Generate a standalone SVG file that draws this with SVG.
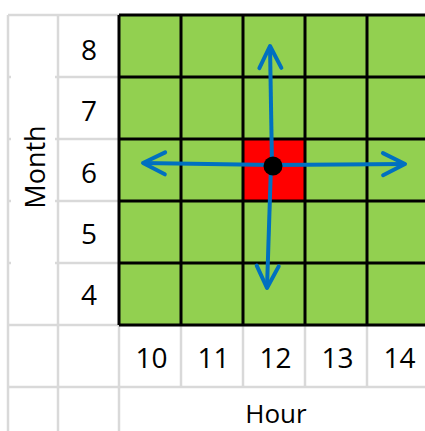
<svg xmlns="http://www.w3.org/2000/svg" width="425" height="431" viewBox="0 0 425 431">
  <style>
    .grey { stroke: #d9d9d9; stroke-width: 2.5; fill: none; }
    .black { stroke: #000; stroke-width: 3; fill: none; }
    .lbl { font-family: "Open Sans", "Liberation Sans", sans-serif; font-size: 28px; fill: #000; text-anchor: middle; }
    .title { font-family: "Open Sans", "Liberation Sans", sans-serif; font-size: 27px; fill: #000; text-anchor: middle; }
    .arrow { stroke: #0070c0; stroke-width: 4; fill: none; marker-end: url(#chev); }
  </style>
  <defs>
    <marker id="chev" markerUnits="userSpaceOnUse" viewBox="-26 -15 30 30" refX="0" refY="0" markerWidth="30" markerHeight="30" orient="auto">
      <path d="M-22,-11 L0,0 L-22,11" fill="none" stroke="#0070c0" stroke-width="4" stroke-linecap="round" stroke-linejoin="round"/>
    </marker>
  </defs>
  <rect width="425" height="431" fill="#fff"/>

  <g id="sheet-grid">
    <path class="grey" d="M8,15 V431 M58,15 V431 M119,325 V431 M8,15 H119 M58,77 H119 M58,139 H119 M58,201 H119 M58,263 H119 M8,325 H425 M8,387 H425 M181,325 V387 M243,325 V387 M305,325 V387 M367,325 V387"/>
    <path class="grey" d="M8,77 h3 M8,139 h3 M8,201 h3 M8,263 h3 M55,77 h3 M55,139 h3 M55,201 h3 M55,263 h3"/>
  </g>

  <g id="heatmap">
    <rect x="119" y="15" width="310" height="310" fill="#92d050"/>
    <rect id="cell-12-6" x="243" y="139" width="62" height="62" fill="#ff0000"/>
    <path class="black" d="M119,15 H425 M119,77 H425 M119,139 H425 M119,201 H425 M119,263 H425 M119,325 H425 M119,15 V325 M181,15 V325 M243,15 V325 M305,15 V325 M367,15 V325"/>
  </g>

  <g id="row-labels">
    <text class="lbl" x="89" y="60">8</text>
    <text class="lbl" x="89" y="121">7</text>
    <text class="lbl" x="89" y="183">6</text>
    <text class="lbl" x="89" y="244">5</text>
    <text class="lbl" x="89" y="305">4</text>
  </g>

  <g id="col-labels">
    <text class="lbl" x="151.5" y="368">10</text>
    <text class="lbl" x="213.5" y="368">11</text>
    <text class="lbl" x="275.5" y="368">12</text>
    <text class="lbl" x="337.5" y="368">13</text>
    <text class="lbl" x="399.5" y="368">14</text>
  </g>

  <g id="axis-month">
    <text class="title" transform="translate(45,167) rotate(-90)">Month</text>
  </g>
  <g id="axis-hour">
    <text class="title" x="276" y="423" style="font-size:26px">Hour</text>
  </g>

  <g id="connectors">
    <line class="arrow" x1="272" y1="165" x2="270" y2="46"/>
    <line class="arrow" x1="271" y1="165" x2="267" y2="288"/>
    <line class="arrow" x1="273" y1="165" x2="143" y2="163"/>
    <line class="arrow" x1="273" y1="165" x2="405" y2="164"/>
  </g>
  <g id="origin">
    <circle cx="273" cy="166" r="9.5" fill="#000"/>
  </g>
</svg>
